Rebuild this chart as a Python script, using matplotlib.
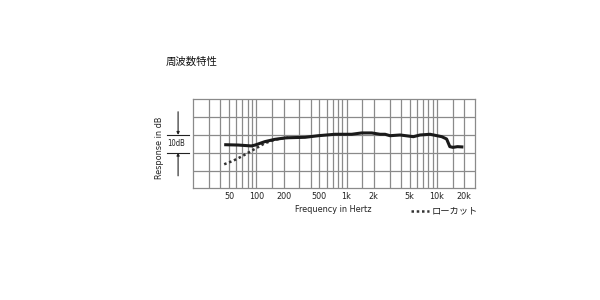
import matplotlib
matplotlib.use("Agg")
import matplotlib.pyplot as plt
from matplotlib.lines import Line2D

plt.rcParams['font.family'] = ['DejaVu Sans', 'Noto Sans CJK JP']

# ---- data ----
title = "周波数特性"
xlabel = "Frequency in Hertz"
ylabel = "Response in dB"
legend_label = "ローカット"
scale_label = "10dB"

tick_freqs = [50, 100, 200, 500, 1000, 2000, 5000, 10000, 20000]
tick_labels = ["50", "100", "200", "500", "1k", "2k", "5k", "10k", "20k"]
grid_freqs = [30, 40, 50, 60, 70, 80, 90, 100, 150, 200, 300, 400, 500, 600, 700,
              800, 900, 1000, 1500, 2000, 3000, 4000, 5000, 6000, 7000, 8000, 9000,
              10000, 15000, 20000]

resp_freq = [44, 63, 88, 97, 124, 160, 208, 224, 346, 486, 745, 1140, 1467, 1900,
             2350, 2670, 3030, 3920, 5500, 6520, 8410, 11340, 12840, 13940, 15100,
             16940, 19700]
resp_db = [-5.5, -5.7, -6.2, -5.7, -3.8, -2.5, -1.7, -1.6, -1.35, -0.45, 0.35, 0.35,
           1.1, 1.1, 0.35, 0.35, -0.45, -0.05, -1.0, -0.05, 0.35, -1.0, -2.3, -6.6,
           -7.0, -6.6, -6.8]

lowcut_freq = [44, 55, 70, 88, 105, 124, 160, 208, 224]
lowcut_db = [-16.5, -14.6, -11.9, -9.0, -6.8, -4.7, -2.7, -1.7, -1.6]

# ---- figure ----
fig = plt.figure(figsize=(6, 3), dpi=100)
W, H = 600, 300
L, R, T, B = 193.3, 475, 99.3, 188.3
ax = fig.add_axes([L / W, 1 - B / H, (R - L) / W, (B - T) / H])

ax.set_xscale('log')
ax.set_xlim(20, 26500)
ax.set_ylim(-30, 20)

gridc = '#8a8a8a'
for f in grid_freqs:
    ax.axvline(f, color=gridc, lw=0.9, zorder=1)
for y in [-20, -10, 0, 10]:
    ax.axhline(y, color=gridc, lw=0.9, zorder=1)
for s in ax.spines.values():
    s.set_color(gridc)
    s.set_linewidth(0.9)

ax.set_xticks(tick_freqs)
ax.set_xticklabels(tick_labels, fontstretch='condensed')
ax.xaxis.set_minor_locator(matplotlib.ticker.NullLocator())
ax.set_yticks([])
ax.tick_params(axis='x', length=0, pad=3, labelsize=6.5, colors='#222222')

ax.plot(lowcut_freq, lowcut_db, color='#333333', lw=1.8, dashes=(1, 1.1), zorder=3)
ax.plot(resp_freq, resp_db, color='#1a1a1a', lw=2.2, zorder=4, solid_capstyle='butt')

# title and labels
fig.text(166 / W, 1 - 62 / H, title, fontsize=7.5, family=['Noto Sans CJK JP'],
         ha='left', va='center', color='#111111')
fig.text(333 / W, 1 - 209 / H, xlabel, fontsize=6.5, fontstretch='condensed',
         ha='center', va='center', color='#222222')
fig.text(160 / W, 1 - 148 / H, ylabel, fontsize=6.5, fontstretch='condensed',
         ha='center', va='center', rotation=90, color='#222222')

# 10dB scale marker
bt = ax.get_yaxis_transform()
ax.plot([-0.093, -0.015], [0, 0], transform=bt, color='#222222', lw=0.8, clip_on=False)
ax.plot([-0.093, -0.015], [-10, -10], transform=bt, color='#222222', lw=0.8, clip_on=False)
ax.annotate('', xy=(-0.054, 0), xytext=(-0.054, 13), xycoords=bt, textcoords=bt,
            arrowprops=dict(arrowstyle='-|>', color='#222222', lw=0.8,
                            mutation_scale=4, shrinkA=0, shrinkB=0))
ax.annotate('', xy=(-0.054, -10), xytext=(-0.054, -23), xycoords=bt, textcoords=bt,
            arrowprops=dict(arrowstyle='-|>', color='#222222', lw=0.8,
                            mutation_scale=4, shrinkA=0, shrinkB=0))
fig.text(176 / W, 1 - 143.5 / H, scale_label, fontsize=5.5, fontstretch='condensed',
         ha='center', va='center', color='#222222')

# legend
fig.add_artist(Line2D([411 / W, 429 / W], [1 - 211 / H, 1 - 211 / H], color='#333333',
                      lw=1.8, dashes=(1, 1.1)))
fig.text(432 / W, 1 - 211 / H, legend_label, fontsize=6.7, family=['Noto Sans CJK JP'],
         ha='left', va='center', color='#222222')

fig.savefig('out.png', dpi=100, facecolor='white')
